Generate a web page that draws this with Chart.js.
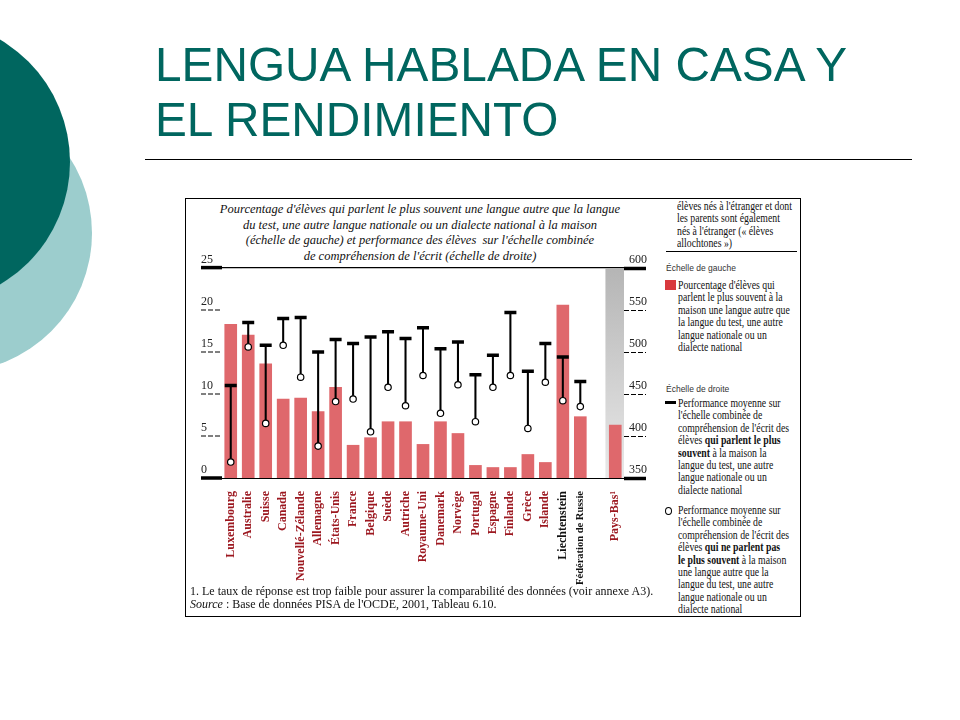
<!DOCTYPE html>
<html>
<head>
<meta charset="utf-8">
<script src="https://cdn.jsdelivr.net/npm/chart.js@4.4.1/dist/chart.umd.min.js"></script>
<style>
  html, body { margin: 0; padding: 0; background: #fff; }
  body { width: 960px; height: 720px; position: relative; overflow: hidden; font-family: "Liberation Serif", serif; }
  .abs { position: absolute; }
  .circle { position: absolute; border-radius: 50%; }
  .title { left: 155px; font-family: "Liberation Sans", Arial, sans-serif; font-size: 49px; color: #00665f; white-space: nowrap; line-height: 55px; transform: scaleX(0.975); transform-origin: left top; }
  .frame { left: 185px; top: 198px; width: 616px; height: 419px; border: 1px solid #000; box-sizing: border-box; }
  .ctitle { left: 200px; top: 202px; width: 440px; text-align: center; font-style: italic; font-size: 12.5px; line-height: 15.5px; color: #111; white-space: nowrap; }
  .leg { font-family: "Liberation Serif", serif; font-size: 11.5px; line-height: 12.4px; color: #111; white-space: nowrap; transform: scaleX(0.85); transform-origin: left top; }
  .scale-head { font-family: "Liberation Sans", sans-serif; font-size: 8.5px; color: #333; white-space: nowrap; }
  .note { left: 190px; font-family: "Liberation Serif", serif; font-size: 12px; line-height: 13px; color: #111; white-space: nowrap; }
</style>
</head>
<body>
<div class="circle" style="left:-186px;top:94px;width:278px;height:278px;background:#9ccdcd;"></div>
<div class="circle" style="left:-214px;top:20px;width:284px;height:284px;background:#00665f;"></div>

<div class="abs title" style="top:37px;">LENGUA HABLADA EN CASA Y</div>
<div class="abs title" style="top:92px;">EL RENDIMIENTO</div>
<div class="abs" style="left:145px;top:159px;width:767px;height:1px;background:#000;"></div>

<div class="abs frame"></div>

<div class="abs ctitle">Pourcentage d'élèves qui parlent le plus souvent une langue autre que la langue<br>du test, une autre langue nationale ou un dialecte national à la maison<br>(échelle de gauche) et performance des élèves&nbsp; sur l'échelle combinée<br>de compréhension de l'écrit (échelle de droite)</div>

<div class="abs" style="left:186px;top:199px;width:462px;height:396px;">
  <canvas id="chart"></canvas>
</div>

<div class="abs note" style="top:585px;">1. Le taux de réponse est trop faible pour assurer la comparabilité des données (voir annexe A3).<br><i>Source</i> : Base de données PISA de l'OCDE, 2001, Tableau 6.10.</div>

<!-- legend panel -->
<div class="abs leg" style="left:677px;top:200px;">élèves nés à l'étranger et dont<br>les parents sont également<br>nés à l'étranger (« élèves<br>allochtones »)</div>
<div class="abs" style="left:666px;top:251px;width:131px;height:1px;background:#000;"></div>

<div class="abs scale-head" style="left:666px;top:263px;">Échelle de gauche</div>
<div class="abs" style="left:665px;top:280px;width:11px;height:10px;background:#d8393d;"></div>
<div class="abs leg" style="left:678px;top:279px;">Pourcentage d'élèves qui<br>parlent le plus souvent à la<br>maison une langue autre que<br>la langue du test, une autre<br>langue nationale ou un<br>dialecte national</div>

<div class="abs scale-head" style="left:666px;top:384px;">Échelle de droite</div>
<div class="abs" style="left:665px;top:401px;width:11px;height:3px;background:#000;"></div>
<div class="abs leg" style="left:678px;top:397px;">Performance moyenne sur<br>l'échelle combinée de<br>compréhension de l'écrit des<br>élèves <b>qui parlent le plus</b><br><b>souvent</b> à la maison la<br>langue du test, une autre<br>langue nationale ou un<br>dialecte national</div>

<div class="abs" style="left:665px;top:507px;width:5px;height:6px;border:1px solid #000;border-radius:50%;background:#fff;"></div>
<div class="abs leg" style="left:678px;top:504px;">Performance moyenne sur<br>l'échelle combinée de<br>compréhension de l'écrit des<br>élèves <b>qui ne parlent pas</b><br><b>le plus souvent</b> à la maison<br>une langue autre que la<br>langue du test, une autre<br>langue nationale ou un<br>dialecte national</div>

<script>
// categories (empty slot = gap before Pays-Bas)
const countries = ["Luxembourg", "Australie", "Suisse", "Canada", "Nouvellé-Zélande", "Allemagne", "États-Unis",
  "France", "Belgique", "Suède", "Autriche", "Royaume-Uni", "Danemark", "Norvège", "Portugal", "Espagne",
  "Finlande", "Grèce", "Islande", "Liechtenstein", "Fédération de Russie", "", "Pays-Bas¹"];

// left scale: % of students speaking another language at home
const pctOtherLanguage = [18.3, 17.0, 13.6, 9.4, 9.5, 7.9, 10.8, 3.9, 4.8, 6.7, 6.7, 4.0, 6.7, 5.3, 1.5, 1.25,
  1.25, 2.8, 1.85, 20.6, 7.3, null, 6.3];

// right scale: mean reading score, students speaking the test language most often
const scoreTestLanguage = [460, 535, 508, 540, 541, 500, 515, 510, 518, 524, 516, 529, 504, 512, 473, 496,
  547, 477, 510, 494, 465, null, null];

// right scale: mean reading score, students not speaking the test language most often
const scoreOtherLanguage = [369, 506, 415, 508, 470, 388, 441, 444, 405, 458, 436, 472, 427, 461, 417, 458,
  472, 409, 464, 442, 435, null, null];

const leftTicks = [0, 5, 10, 15, 20, 25];
const rightTicks = [350, 400, 450, 500, 550, 600];
const notComparable = "Pays-Bas¹";
const blackLabels = ["Liechtenstein", "Fédération de Russie"];

const whiskers = scoreOtherLanguage.map((v, i) => (v == null ? null : [v, scoreTestLanguage[i]]));
const band = countries.map((c) => (c === notComparable ? [rightTicks[0], rightTicks[rightTicks.length - 1]] : null));

const serif = "'Liberation Serif', serif";

function edgeTick(scale, value) {
  return value === scale.min || value === scale.max;
}

new Chart(document.getElementById("chart"), {
  type: "bar",
  data: {
    labels: countries,
    datasets: [
      {
        data: band,
        yAxisID: "yR",
        grouped: false,
        barThickness: 19,
        borderWidth: 0,
        order: 5,
        backgroundColor: (c) => {
          const area = c.chart.chartArea;
          if (!area) return "#cfcfcf";
          const g = c.chart.ctx.createLinearGradient(0, area.top, 0, area.bottom);
          g.addColorStop(0, "#b5b5b5");
          g.addColorStop(1, "#e9e9e9");
          return g;
        }
      },
      {
        data: pctOtherLanguage,
        yAxisID: "yL",
        grouped: false,
        barThickness: 12,
        backgroundColor: "#df686c",
        borderWidth: 0,
        order: 4
      },
      {
        data: whiskers,
        yAxisID: "yR",
        grouped: false,
        barThickness: 1.4,
        backgroundColor: "#000",
        borderWidth: 0,
        borderSkipped: false,
        order: 3
      },
      {
        type: "line",
        data: scoreTestLanguage,
        yAxisID: "yR",
        showLine: false,
        pointStyle: "line",
        pointRadius: 6,
        pointBorderWidth: 3.5,
        pointBorderColor: "#000",
        order: 2
      },
      {
        type: "line",
        data: scoreOtherLanguage,
        yAxisID: "yR",
        showLine: false,
        pointStyle: "circle",
        pointRadius: 3.2,
        pointBorderWidth: 1.2,
        pointBorderColor: "#000",
        pointBackgroundColor: "#fff",
        order: 1
      }
    ]
  },
  options: {
    responsive: true,
    maintainAspectRatio: false,
    animation: false,
    layout: { padding: { left: 15, right: 0, top: 69, bottom: 0 } },
    plugins: { legend: { display: false }, tooltip: { enabled: false }, title: { display: false } },
    scales: {
      x: {
        offset: true,
        grid: { display: false },
        border: { display: true, color: "#000", width: 1 },
        afterFit: (s) => { s.height = 117; },
        ticks: {
          autoSkip: false,
          minRotation: 90,
          maxRotation: 90,
          padding: 5,
          font: (c) => ({ family: serif, size: String(countries[c.index]).length > 16 ? 10.5 : 12, weight: "bold" }),
          color: (c) => (blackLabels.includes(countries[c.index]) ? "#111" : "#9c1820")
        }
      },
      yL: {
        position: "left",
        min: leftTicks[0],
        max: leftTicks[leftTicks.length - 1],
        afterBuildTicks: (s) => { s.ticks = leftTicks.map((v) => ({ value: v })); },
        afterFit: (s) => { s.width = 21; },
        border: { display: false },
        grid: {
          drawOnChartArea: true,
          tickLength: 21,
          color: (c) => (c.tick && c.tick.value === leftTicks[leftTicks.length - 1] ? "#000" : "rgba(0,0,0,0)"),
          lineWidth: (c) => (c.tick && c.tick.value === leftTicks[leftTicks.length - 1] ? 1.2 : 0),
          tickColor: "#000",
          tickWidth: (c) => (c.tick && edgeTick(c.scale, c.tick.value) ? 3.5 : 1),
          tickBorderDash: (c) => (c.tick && edgeTick(c.scale, c.tick.value) ? [] : [5, 2])
        },
        ticks: {
          crossAlign: "far",
          padding: -12,
          labelOffset: -8,
          color: "#222",
          font: { family: serif, size: 12 }
        }
      },
      yR: {
        position: "right",
        min: rightTicks[0],
        max: rightTicks[rightTicks.length - 1],
        afterBuildTicks: (s) => { s.ticks = rightTicks.map((v) => ({ value: v })); },
        afterFit: (s) => { s.width = 24; },
        border: { display: false },
        grid: {
          drawOnChartArea: false,
          tickLength: 22,
          tickColor: "#000",
          tickWidth: (c) => (c.tick && edgeTick(c.scale, c.tick.value) ? 3.5 : 1),
          tickBorderDash: (c) => (c.tick && edgeTick(c.scale, c.tick.value) ? [] : [5, 2])
        },
        ticks: {
          crossAlign: "near",
          padding: -17,
          labelOffset: -8,
          color: "#222",
          font: { family: serif, size: 12 }
        }
      }
    }
  }
});
</script>
</body>
</html>
